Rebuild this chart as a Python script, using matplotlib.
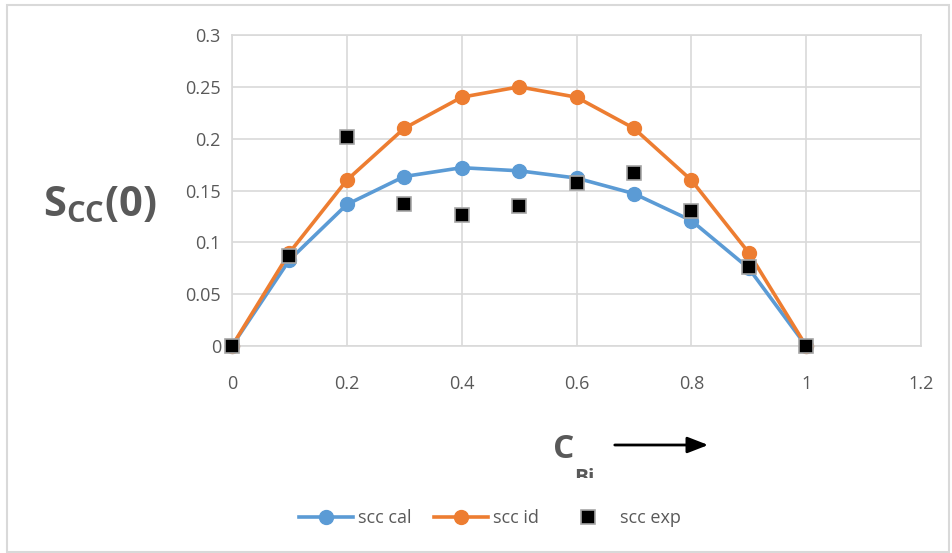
import matplotlib
matplotlib.use("Agg")
import matplotlib.pyplot as plt
from matplotlib.patches import Rectangle, FancyArrowPatch

# Composition of Bi and concentration-concentration structure factor
c_bi = [0.0, 0.1, 0.2, 0.3, 0.4, 0.5, 0.6, 0.7, 0.8, 0.9, 1.0]
scc_cal = [0.0, 0.083, 0.1365, 0.1635, 0.172, 0.169, 0.162, 0.147, 0.121, 0.075, 0.0]
scc_id = [0.0, 0.09, 0.16, 0.21, 0.24, 0.25, 0.24, 0.21, 0.16, 0.09, 0.0]
scc_exp = [0.0, 0.087, 0.202, 0.137, 0.126, 0.135, 0.157, 0.167, 0.13, 0.076, 0.0]

x_ticks = [0, 0.2, 0.4, 0.6, 0.8, 1.0, 1.2]
x_tick_labels = ["0", "0.2", "0.4", "0.6", "0.8", "1", "1.2"]
y_ticks = [0, 0.05, 0.1, 0.15, 0.2, 0.25, 0.3]
y_tick_labels = ["0", "0.05", "0.1", "0.15", "0.2", "0.25", "0.3"]

plt.rcParams["font.family"] = ["Open Sans", "DejaVu Sans"]

W, H = 952, 553
fig = plt.figure(figsize=(W / 100, H / 100), dpi=100)
ax = fig.add_axes([232 / W, 1 - 346 / H, (921 - 232) / W, (346 - 35) / H])

text_gray = "#595959"
grid_gray = "#d9d9d9"

ax.plot(c_bi, scc_cal, color="#5b9bd5", lw=2.6, marker="o", ms=10,
        label="scc cal", zorder=3, clip_on=False)
ax.plot(c_bi, scc_id, color="#ed7d31", lw=2.6, marker="o", ms=10,
        label="scc id", zorder=3, clip_on=False)
ax.plot(c_bi, scc_exp, linestyle="none", marker="s", ms=9.5,
        markerfacecolor="black", markeredgecolor="#a6a6a6", mew=1.2,
        label="scc exp", zorder=4, clip_on=False)

ax.set_xlim(0, 1.2)
ax.set_ylim(0, 0.3)
ax.set_xticks(x_ticks)
ax.set_xticklabels(x_tick_labels)
ax.set_yticks(y_ticks)
ax.set_yticklabels(y_tick_labels)
ax.tick_params(length=0, labelsize=13, labelcolor=text_gray)
ax.tick_params(axis="x", pad=21)
ax.tick_params(axis="y", pad=8)
ax.grid(True, color=grid_gray, lw=1.2)
ax.set_axisbelow(True)
for s in ax.spines.values():
    s.set_color(grid_gray)
    s.set_linewidth(1.2)

# Axis titles
fig.text(43 / W, 1 - 206 / H, r"S$_{\mathregular{CC}}$(0)", fontsize=30,
         fontweight="bold", color=text_gray, ha="left", va="center")
fig.text(553 / W, 1 - 449 / H, "C", fontsize=24, fontweight="bold",
         color=text_gray, ha="left", va="center")
bi = fig.text(574 / W, 1 - 478 / H, "Bi", fontsize=15, fontweight="bold",
              color=text_gray, ha="left", va="center")
bi.set_clip_path(Rectangle((0, 1 - 478 / H), 1, 1, transform=fig.transFigure))
fig.add_artist(FancyArrowPatch(
    (612 / W, 1 - 445 / H), (711 / W, 1 - 445 / H), transform=fig.transFigure,
    arrowstyle="-|>,head_length=0.9,head_width=0.35", color="black", lw=2,
    mutation_scale=14))

leg = fig.legend(loc="center", bbox_to_anchor=(490 / W, 1 - 518 / H), ncol=3,
                 frameon=False, fontsize=13, handlelength=3.0,
                 columnspacing=1.2, handletextpad=0.3)
for t in leg.get_texts():
    t.set_color(text_gray)

# Chart frame
fig.add_artist(Rectangle((6.5 / W, 1 - 551.5 / H), (949 - 6.5) / W,
                         (551.5 - 4.5) / H, transform=fig.transFigure,
                         fill=False, edgecolor=grid_gray, lw=1.5))

fig.savefig("out.png", dpi=100, facecolor="white")
